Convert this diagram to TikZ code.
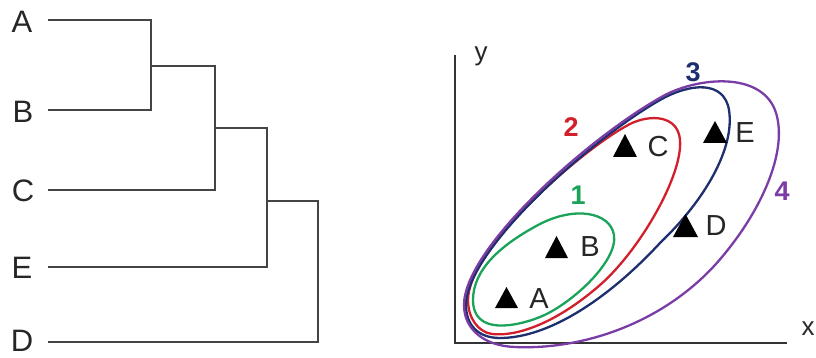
\documentclass[tikz,border=0pt]{standalone}
\usepackage{fontspec}
\setmainfont{Liberation Sans}
\definecolor{grn}{HTML}{1BA35A}
\definecolor{rd}{HTML}{D21F2B}
\definecolor{nv}{HTML}{1D2F6E}
\definecolor{pur}{HTML}{7A3DA6}
\definecolor{treeline}{HTML}{444444}
\tikzset{
  lbl/.style={inner sep=0pt, anchor=center, font=\fontsize{31}{31}\selectfont, text=black!85},
  plbl/.style={inner sep=0pt, anchor=center, font=\fontsize{29}{29}\selectfont, text=black!85},
  num/.style={inner sep=0pt, anchor=center, font=\fontsize{27}{27}\selectfont\bfseries},
  tree/.style={draw=treeline, line width=1.8pt},
  axis/.style={draw=black!80, line width=2.6pt},
  clus/.style={line width=2.3pt},
  tri/.style={fill=black}
}
\begin{document}
\begin{tikzpicture}[x=1pt,y=-1pt]
\path[use as bounding box] (0,0) rectangle (816,358);
% dendrogram
\node[lbl] (lA) at (22,22) {A};
\node[lbl] (lB) at (23,112) {B};
\node[lbl] (lC) at (23,191) {C};
\node[lbl] (lE) at (22,268) {E};
\node[lbl] (lD) at (22,341) {D};
\coordinate (tA) at (48,20);
\coordinate (tB) at (48,110);
\coordinate (tC) at (48,190);
\coordinate (tE) at (48,267);
\coordinate (tD) at (48,342);
\draw[tree] (tA) -- (151,20) -- (151,110) -- (tB);
\draw[tree] (151,66) -- (215,66) -- (215,190) -- (tC);
\draw[tree] (215,128) -- (267,128) -- (267,267) -- (tE);
\draw[tree] (267,201) -- (318,201) -- (318,342) -- (tD);
% axes
\coordinate (O) at (455,343);
\coordinate (Ytop) at (455,55);
\coordinate (Xend) at (787,343);
\draw[axis] (Ytop) -- (O) -- (Xend);
\node[inner sep=0pt, font=\fontsize{26}{26}\selectfont, text=black!85] (ylab) at (481,56) {y};
\node[inner sep=0pt, font=\fontsize{26}{26}\selectfont, text=black!85] (xlab) at (808,329) {x};
% clusters
\draw[clus, grn] (473,300) .. controls (473,270) and (500,245) .. (540,224)
  .. controls (575,206) and (610,212) .. (614,235)
  .. controls (618,262) and (570,305) .. (540,317)
  .. controls (515,327) and (473,335) .. (473,300) -- cycle;
\draw[clus, rd] (468,300) .. controls (468,250) and (580,150) .. (630,124)
  .. controls (650,114) and (678,115) .. (680,140)
  .. controls (683,175) and (640,250) .. (600,285)
  .. controls (560,320) and (520,337) .. (492,334)
  .. controls (478,332) and (468,318) .. (468,300) -- cycle;
\draw[clus, nv] (466,305) .. controls (466,250) and (590,140) .. (660,100)
  .. controls (690,83) and (724,80) .. (729,110)
  .. controls (735,148) and (705,200) .. (660,243)
  .. controls (610,297) and (550,338) .. (500,338)
  .. controls (478,338) and (466,325) .. (466,305) -- cycle;
\draw[clus, pur] (464,305) .. controls (464,248) and (590,136) .. (665,95)
  .. controls (700,77) and (760,72) .. (775,110)
  .. controls (790,150) and (760,215) .. (715,265)
  .. controls (660,325) and (580,350) .. (515,347)
  .. controls (485,346) and (464,330) .. (464,305) -- cycle;
% points
\fill[tri] (495,308) -- (518,308) -- (506.5,287) -- cycle;
\fill[tri] (545,258) -- (568,258) -- (556.5,236) -- cycle;
\fill[tri] (613,157) -- (637,157) -- (625,134) -- cycle;
\fill[tri] (703,143) -- (727,143) -- (715,121) -- cycle;
\fill[tri] (673,237) -- (698,237) -- (685.5,214) -- cycle;
\node[plbl] (pA) at (539,299) {A};
\node[plbl] (pB) at (590,247) {B};
\node[plbl] (pC) at (658,147) {C};
\node[plbl] (pE) at (745,133) {E};
\node[plbl] (pD) at (716,226) {D};
% cluster numbers
\node[num, text=grn] (n1) at (578,195) {1};
\node[num, text=rd] (n2) at (571,127) {2};
\node[num, text=nv] (n3) at (693,72) {3};
\node[num, text=pur] (n4) at (782,191) {4};
\end{tikzpicture}
\end{document}
